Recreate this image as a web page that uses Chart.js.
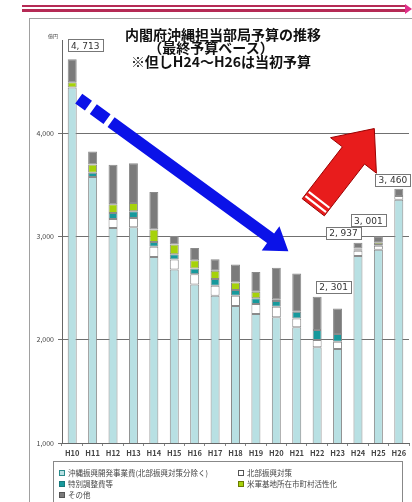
<!DOCTYPE html>
<html><head><meta charset="utf-8">
<script src="https://cdn.jsdelivr.net/npm/chart.js@4.4.1/dist/chart.umd.min.js"></script>
<style>
html,body{margin:0;padding:0;background:#fff;}
#wrap{position:relative;width:412px;height:502px;overflow:hidden;font-family:"Noto Sans CJK JP","Noto Sans",sans-serif;}
#cbox{position:absolute;left:0;top:0;width:412px;height:502px;}
.frame{position:absolute;left:29px;top:18px;width:420px;height:520px;border:1px solid #a0a0a0;}
.ln1{position:absolute;left:22px;top:5px;width:383px;height:2px;background:#b52a55;}
.ln2{position:absolute;left:22px;top:9px;width:383px;height:3px;background:#b52a55;}
.tip{position:absolute;left:405px;top:4px;width:0;height:0;border-top:5px solid transparent;border-bottom:5px solid transparent;border-left:7px solid #e0308a;}
.t{position:absolute;font-weight:700;font-size:14px;color:#111;white-space:nowrap;line-height:14px;transform:translateX(-50%);}
.unit{position:absolute;left:48px;top:32px;font-size:5px;color:#444;}
#legend{position:absolute;left:53px;top:461px;width:350px;height:60px;border:1px solid #888;box-sizing:border-box;padding:5px 0 0 5px;display:grid;grid-template-columns:179px 165px;grid-auto-rows:11px;font-size:7.5px;color:#444;}
#legend .it{display:flex;align-items:center;white-space:nowrap;line-height:11px;}
#legend .mk{display:inline-block;width:4px;height:4px;border:1px solid #2a8a8a;margin-right:3px;}
</style></head>
<body>
<div id="wrap">
  <div class="frame"></div>
  <div class="ln1"></div><div class="ln2"></div><div class="tip"></div>
  <div id="cbox"><canvas id="c"></canvas></div>
  <div class="t" style="left:223px;top:27px;">内閣府沖縄担当部局予算の推移</div>
  <div class="t" style="left:211px;top:40px;">（最終予算ベース）</div>
  <div class="t" style="left:221px;top:54px;">※但しH24～H26は当初予算</div>
  <div class="unit">億円</div>
  <div id="legend"></div>
</div>
<script>
// ---- data (億円) ----
const years = ['H10','H11','H12','H13','H14','H15','H16','H17','H18','H19','H20','H21','H22','H23','H24','H25','H26'];
const seriesNames = ['沖縄振興開発事業費(北部振興対策分除く)','北部振興対策','特別調整費等','米軍基地所在市町村活性化','その他'];
const shinkou   = [4440,3573,3081,3088,2801,2680,2535,2425,2325,2248,2216,2120,1927,1910,2810,2870,3355];
const hokubu    = [null,null,87,90,97,96,99,96,100,97,103,86,70,71,50,40,35];
const tokubetsu = [null,43,58,64,48,51,55,65,55,55,55,64,97,74,10,5,null];
const beigun    = [50,80,84,80,120,94,80,80,74,63,16,null,null,null,12,24,null];
const sonota    = [223,125,383,386,363,83,119,113,174,193,305,371,321,246,55,62,70];
const labeledYears = ['H10','H23','H24','H25','H26'];
const yTicks = [1000,2000,3000,4000];

const colors = ['#b8e0e3','#ffffff','#17999c','#a6d20a','#7b7b7b'];
const markBorders = ['#2a8a8a','#555','#17797c','#6a7a00','#555'];
const allSeries = [shinkou,hokubu,tokubetsu,beigun,sonota];

Chart.defaults.font.family = '"Noto Sans CJK JP","Noto Sans",sans-serif';

// label box placement relative to bar top (px)
const labelOffsets = {H10:[13,-8], H23:[-4,-16], H24:[-14.5,-4], H25:[-10,-10], H26:[-6,-3]};

function drawArrow(ctx, p0, p1, w, hw, hl, fill, segs, stroke){
  const dx=p1.x-p0.x, dy=p1.y-p0.y, L=Math.hypot(dx,dy);
  const ux=dx/L, uy=dy/L, nx=-uy, ny=ux;
  const pt=(d,o)=>({x:p0.x+ux*d+nx*o, y:p0.y+uy*d+ny*o});
  ctx.save();
  ctx.fillStyle=fill;
  if(stroke){ctx.strokeStyle=stroke;ctx.lineWidth=1;}
  // full outline for solid arrow
  ctx.beginPath();
  const pts=[];
  segs.forEach(([a,b])=>{
    const e = b===null ? L-hl : b;
    const q=[pt(a,-w/2),pt(e,-w/2),pt(e,w/2),pt(a,w/2)];
    if(b===null){
      ctx.moveTo(q[0].x,q[0].y);
      ctx.lineTo(q[1].x,q[1].y);
      const h1=pt(L-hl,-hw/2), h2=pt(L-hl,hw/2);
      ctx.lineTo(h1.x,h1.y); ctx.lineTo(p1.x,p1.y); ctx.lineTo(h2.x,h2.y);
      ctx.lineTo(q[2].x,q[2].y); ctx.lineTo(q[3].x,q[3].y); ctx.closePath();
    } else {
      ctx.moveTo(q[0].x,q[0].y); q.slice(1).forEach(p=>ctx.lineTo(p.x,p.y)); ctx.closePath();
    }
  });
  ctx.fill();
  if(stroke) ctx.stroke();
  ctx.restore();
  return pt;
}

const annot = {
  id:'annot',
  afterDatasetsDraw(chart){
    const {ctx, scales:{x,y}} = chart;
    // totals
    ctx.save();
    ctx.font = '9px "DejaVu Sans","Noto Sans",sans-serif';
    ctx.textAlign='center'; ctx.textBaseline='middle';
    labeledYears.forEach(yr=>{
      const i = years.indexOf(yr);
      const tot = allSeries.reduce((s,a)=>s+(a[i]||0),0);
      const txt = tot.toLocaleString('en-US').replace(',', ', ');
      const [ox,oy] = labelOffsets[yr];
      const cx = x.getPixelForValue(i)+ox;
      const bottom = y.getPixelForValue(tot)+oy;
      const tw = ctx.measureText(txt).width+6, th=12;
      ctx.fillStyle='#fff'; ctx.strokeStyle='#777'; ctx.lineWidth=1;
      ctx.fillRect(Math.round(cx-tw/2)+0.5, Math.round(bottom-th)+0.5, Math.round(tw), th);
      ctx.strokeRect(Math.round(cx-tw/2)+0.5, Math.round(bottom-th)+0.5, Math.round(tw), th);
      ctx.fillStyle='#333';
      ctx.fillText(txt, cx, bottom-th/2+1);
    });
    ctx.restore();
    // blue arrow (decreasing trend)
    const b0={x:x.getPixelForValue(0.32), y:y.getPixelForValue(4333)};
    const b1={x:x.getPixelForValue(10.59), y:y.getPixelForValue(2856)};
    drawArrow(ctx,b0,b1,12,30,22,'#0b12e8',[[0,12],[18,35],[40,null]]);
    // red arrow (increasing trend)
    const r0={x:x.getPixelForValue(11.81), y:y.getPixelForValue(3281)};
    const r1={x:x.getPixelForValue(14.8), y:y.getPixelForValue(4043)};
    const pt = drawArrow(ctx,r0,r1,28,58,34,'#e81c1c',[[0,null]],'#9a0000');
    // white stripes near tail
    ctx.save();
    ctx.strokeStyle='#fff'; ctx.lineWidth=2.2;
    [4,9.5].forEach(d=>{
      const a=pt(d,-13), b=pt(d,13);
      ctx.beginPath(); ctx.moveTo(a.x,a.y); ctx.lineTo(b.x,b.y); ctx.stroke();
    });
    ctx.restore();
  }
};

const chart = new Chart(document.getElementById('c'), {
  type:'bar',
  data:{
    labels: years,
    datasets: allSeries.map((d,k)=>({label: seriesNames[k], data: d, backgroundColor: colors[k]}))
  },
  options:{
    responsive:true, maintainAspectRatio:false, animation:false,
    layout:{padding:{top:40,left:0,right:3,bottom:43}},
    plugins:{legend:{display:false}, tooltip:{enabled:false}, title:{display:false}},
    datasets:{bar:{barPercentage:0.44, categoryPercentage:1, borderWidth:1, borderColor:'#8a8a8a', borderSkipped:false}},
    scales:{
      x:{stacked:true,
         grid:{display:true, drawOnChartArea:false, drawTicks:true, tickLength:3, color:'#888', offset:true},
         border:{display:true, color:'#666', width:1},
         ticks:{font:{size:7.5, weight:'bold'}, color:'#444', padding:3, maxRotation:0, autoSkip:false},
         afterFit(s){ s.height=16; }},
      y:{stacked:true, min:1000, max:4900,
         afterBuildTicks(s){ s.ticks = yTicks.map(v=>({value:v})); },
         ticks:{stepSize:1000, callback:v=>Number(v).toLocaleString('en-US'), font:{size:7}, color:'#444', padding:4},
         grid:{color:'#707070', lineWidth:1, tickLength:4, drawTicks:true},
         border:{display:true, color:'#666'},
         afterFit(s){ s.width=62; }}
    }
  },
  plugins:[annot]
});

// HTML legend built from the chart datasets
const lg = document.getElementById('legend');
const order = [0,1,2,3,4];
order.forEach(k=>{
  const ds = chart.data.datasets[k];
  const it = document.createElement('div'); it.className='it';
  const mk = document.createElement('span'); mk.className='mk';
  mk.style.background = ds.backgroundColor; mk.style.borderColor = markBorders[k];
  it.appendChild(mk);
  it.appendChild(document.createTextNode(ds.label));
  lg.appendChild(it);
});
</script>
</body></html>
